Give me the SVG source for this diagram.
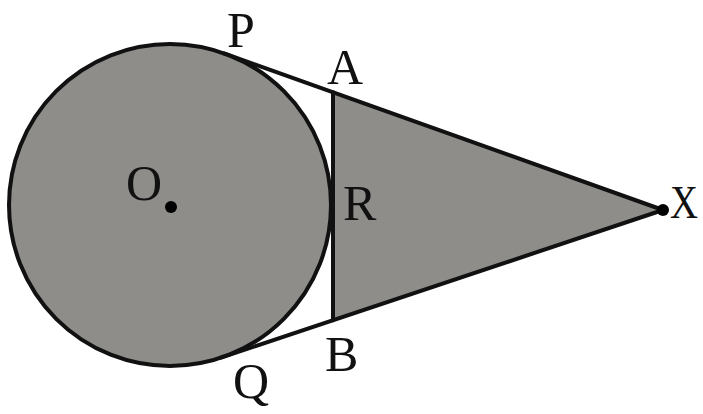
<svg xmlns="http://www.w3.org/2000/svg" width="703" height="414" viewBox="0 0 703 414">
<style>
.ln{stroke:#111;stroke-width:4;fill:none;stroke-linecap:round;stroke-linejoin:round}
.sh{fill:#8e8d8a}
.dot{fill:#000}
</style>
<rect width="703" height="414" fill="#fff"/>
<g id="circle">
<circle cx="170" cy="205" r="161" class="sh"/>
<circle cx="170" cy="205" r="161" class="ln"/>
</g>
<g id="triangle">
<polygon points="333,92.2 333,320.3 663,210" class="sh"/>
</g>
<g id="lines">
<line x1="224.1" y1="53.4" x2="663" y2="210" class="ln"/>
<line x1="221" y1="357.7" x2="663" y2="210" class="ln"/>
<line x1="333" y1="92.2" x2="333" y2="320.3" class="ln" stroke-width="3"/>
</g>
<g id="points">
<circle cx="171" cy="207" r="6" class="dot"/>
<circle cx="663" cy="210" r="6" class="dot"/>
</g>
<g id="labels" font-family="'Liberation Serif', 'Times New Roman', serif" font-size="50" fill="#111">
<text x="227" y="47">P</text>
<text x="327" y="84">A</text>
<text x="126" y="200">O</text>
<text x="343" y="220">R</text>
<text x="670" y="218" font-size="46" textLength="28" lengthAdjust="spacingAndGlyphs">X</text>
<text x="325" y="371">B</text>
<text x="233" y="398">Q</text>
</g>
</svg>
